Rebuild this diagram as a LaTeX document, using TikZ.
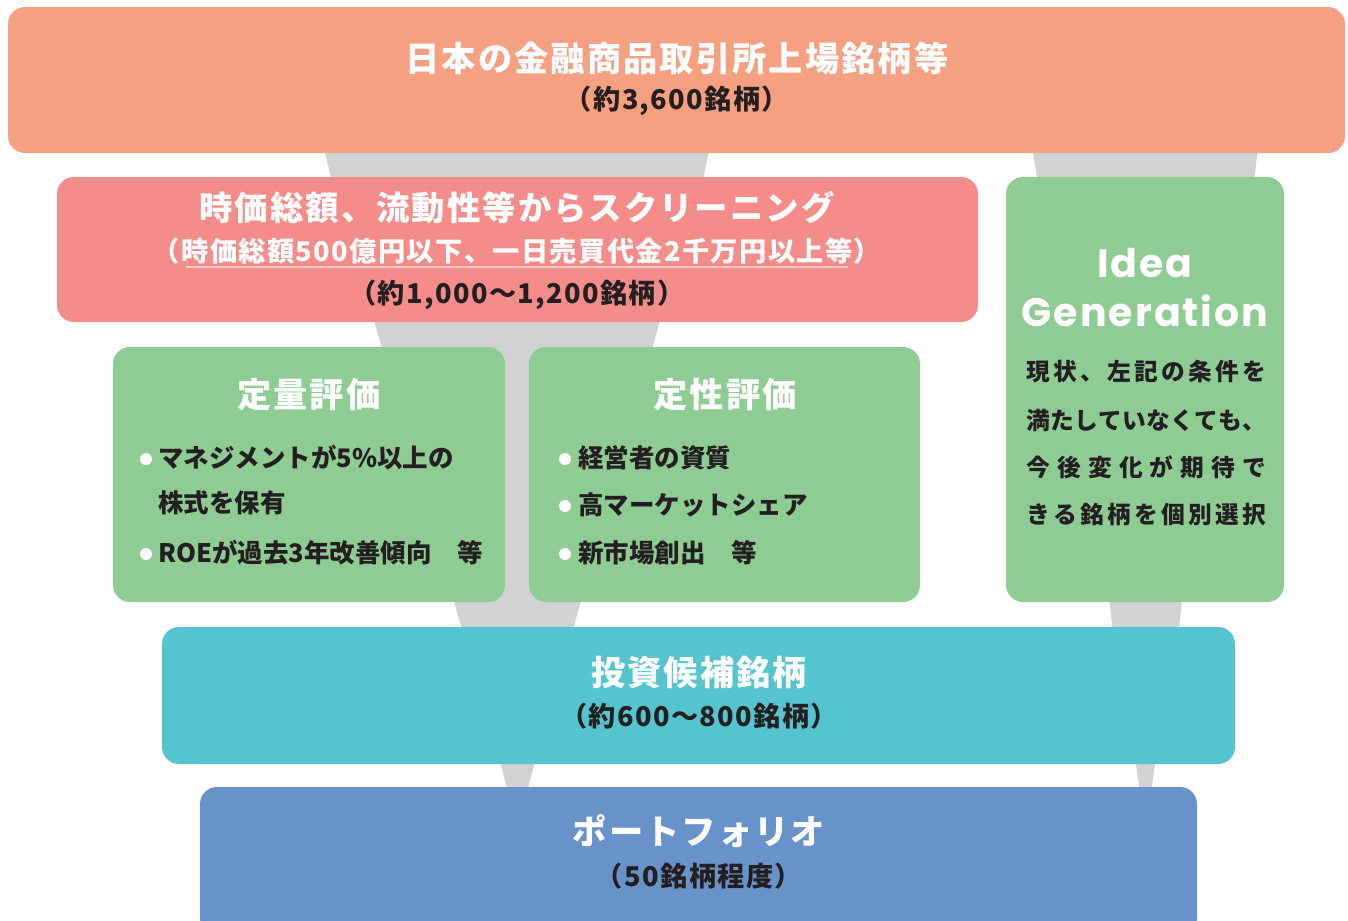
\documentclass[tikz,border=0pt]{standalone}
\usepackage{fontspec}
\setmainfont{Noto Sans CJK JP}
\newfontfamily\jpwide[LetterSpace=6]{Noto Sans CJK JP}
\newfontfamily\jpnum[LetterSpace=5]{Noto Sans CJK JP}
\newfontfamily\ideafont[LetterSpace=5]{Poppins}
\usetikzlibrary{fit}
\definecolor{ivOrange}{RGB}{246,160,130}
\definecolor{ivRed}{RGB}{244,140,137}
\definecolor{ivGreen}{RGB}{142,204,148}
\definecolor{ivTeal}{RGB}{84,196,206}
\definecolor{ivBlue}{RGB}{104,146,202}
\definecolor{ivGray}{RGB}{209,210,212}
\definecolor{ivInk}{RGB}{35,31,32}
\makeatletter
\newcommand\spreadline[2]{\makebox[#1][s]{\@tfor\sp@ch:=#2\do{\sp@ch\hfil}\unskip}}
\makeatother
\tikzset{
    base/.style={align=center, inner sep=0pt},
    panel/.style={rectangle, rounded corners=3.4mm, inner sep=0pt, draw=none},
    funnel/.style={fill=ivGray},
    heading/.style={base, font=\jpwide\bfseries\fontsize{19.5}{23}\selectfont, text=white},
    tally/.style={base, font=\jpnum\bfseries\fontsize{15.5}{18}\selectfont, text=ivInk},
    item/.style={base, anchor=west, font=\bfseries\fontsize{14.5}{17}\selectfont, text=ivInk},
    bullet/.style={circle, fill=white, inner sep=0pt, minimum size=2.4mm},
    note/.style={base, anchor=west, font=\bfseries\fontsize{13.5}{16}\selectfont, text=ivInk},
    idea/.style={base, font=\ideafont\bfseries\fontsize{22.5}{27}\selectfont, text=white}
}
\begin{document}
\begin{tikzpicture}[x=0.02cm, y=-0.02cm]
  \useasboundingbox (0,0) rectangle (1348,920);
  \clip (0,0) rectangle (1348,920);

  % Funnels
  \fill[funnel] (322,140) -- (711,140) -- (701,190) -- (334,190) -- cycle;
  \fill[funnel] (1031,140) -- (1259,140) -- (1253,190) -- (1039,190) -- cycle;
  \fill[funnel] (371,310) -- (663,310) -- (570,640) -- (465,640) -- cycle;
  \fill[funnel] (1108,590) -- (1183,590) -- (1178,640) -- (1114,640) -- cycle;
  \fill[funnel] (497,750) -- (538,750) -- (525,800) -- (510,800) -- cycle;
  \fill[funnel] (1134,750) -- (1157,750) -- (1150,800) -- (1141,800) -- cycle;

  % Panels
  \node[panel, fill=ivOrange, fit={(8,7) (1345,153)}] (market) {};
  \node[panel, fill=ivRed, fit={(57,177) (978,322)}] (screen) {};
  \node[panel, fill=ivGreen, fit={(113,347) (505,602)}] (quant) {};
  \node[panel, fill=ivGreen, fit={(529,347) (920,602)}] (qual) {};
  \node[panel, fill=ivGreen, fit={(1006,177) (1284,602)}] (ideabox) {};
  \node[panel, fill=ivTeal, fit={(162,627) (1235,764)}] (cand) {};
  \node[panel, fill=ivBlue, fit={(200,787) (1197,935)}] (port) {};

  % Listed universe
  \node[heading] (marketT) at (677,58) {日本の金融商品取引所上場銘柄等};
  \node[tally] (marketN) at (677,101) {（約3,600銘柄）};

  % Screening
  \node[heading, font=\jpwide\bfseries\fontsize{19}{23}\selectfont] (screenT) at (517,208) {時価総額、流動性等からスクリーニング};
  \node[tally, text=white] (screenC) at (517,251) {（時価総額500億円以下、一日売買代金2千万円以上等）};
  \draw[white, opacity=0.6, line width=1pt] (186,267) -- (848,267);
  \node[tally] (screenN) at (517,295) {（約1,000～1,200銘柄）};

  % Quantitative
  \node[heading] (quantT) at (309,395) {定量評価};
  \node[bullet] (quantdot1) at (146,459) {};
  \node[item] (quant1) at (158,458) {マネジメントが5\%以上の};
  \node[item] (quant1b) at (158,503) {株式を保有};
  \node[bullet] (quantdot2) at (146,554) {};
  \node[item] (quant2) at (158,553) {ROEが過去3年改善傾向　等};

  % Qualitative
  \node[heading] (qualT) at (725,395) {定性評価};
  \foreach \y/\t [count=\i] in {458/経営者の資質, 505/高マーケットシェア, 553/新市場創出　等} {
    \node[bullet] (qualdot\i) at (565,\y+1) {};
    \node[item] (qual\i) at (578,\y) {\t};
  }

  % Idea generation
  \node[idea] (ideaA) at (1145,263) {Idea};
  \node[idea] (ideaB) at (1145,311) {Generation};
  \node[note] (ideaL1) at (1026,372) {\spreadline{4.8cm}{現状、左記の条件を}};
  \node[note] (ideaL2) at (1026,420) {\spreadline{4.8cm}{満たしていなくても、}};
  \node[note] (ideaL3) at (1026,467) {\spreadline{4.8cm}{今後変化が期待で}};
  \node[note] (ideaL4) at (1026,515) {\spreadline{4.8cm}{きる銘柄を個別選択}};

  % Candidates and portfolio
  \node[heading] (candT) at (699,673) {投資候補銘柄};
  \node[tally] (candN) at (699,716) {（約600～800銘柄）};
  \node[heading] (portT) at (699,831) {ポートフォリオ};
  \node[tally] (portN) at (699,876) {（50銘柄程度）};
\end{tikzpicture}
\end{document}
